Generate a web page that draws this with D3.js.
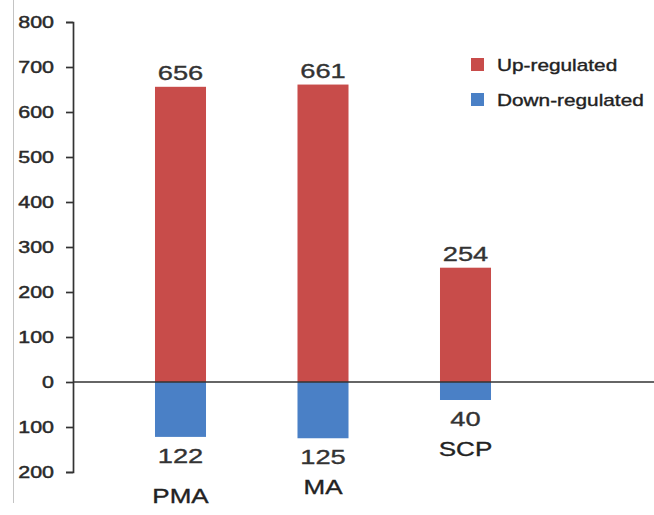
<!DOCTYPE html>
<html>
<head>
<meta charset="utf-8">
<script src="https://cdn.jsdelivr.net/npm/d3@7"></script>
<style>
  html, body { margin: 0; padding: 0; background: #fff; }
  svg { display: block; }
  text { font-family: "Liberation Sans", Arial, sans-serif; }
</style>
</head>
<body>
<svg id="chart" width="654" height="515"></svg>
<script>
// Differentially expressed genes per comparison
const categories = ["PMA", "MA", "SCP"];
const upRegulated = [656, 661, 254];
const downRegulated = [122, 125, 40];
const yTicks = [-200, -100, 0, 100, 200, 300, 400, 500, 600, 700, 800];
const seriesNames = ["Up-regulated", "Down-regulated"];
const seriesColors = ["#c84c4a", "#4a80c6"];

const W = 654, H = 515;
const svg = d3.select("#chart");
const stretch = 1.3;   // wide lettering

const y = d3.scaleLinear().domain([-200, 800]).range([472, 22]);
const x = d3.scaleBand().domain(categories)
  .range([109.25, 536.75]).paddingInner(0.642).paddingOuter(0.321);
const axisX = 73;

// stretched text helper
function label(g, x0, y0, txt, size, anchor, fill) {
  return g.append("text")
    .attr("transform", `translate(${x0},${y0}) scale(${stretch},1)`)
    .attr("text-anchor", anchor)
    .attr("font-size", size)
    .attr("fill", fill || "#2a2a2a")
    .attr("stroke", fill || "#2a2a2a")
    .attr("stroke-width", 0.35)
    .text(txt);
}

// thin frame edge on the left
svg.append("line")
  .attr("x1", 13.5).attr("x2", 13.5).attr("y1", 0).attr("y2", 503)
  .attr("stroke", "#c4c4c4").attr("stroke-width", 1);

// bars
const bars = svg.append("g");
bars.selectAll("rect.up").data(upRegulated).join("rect")
  .attr("class", "up")
  .attr("x", (d, i) => x(categories[i]))
  .attr("width", x.bandwidth())
  .attr("y", d => y(d))
  .attr("height", d => y(0) - y(d))
  .attr("fill", seriesColors[0]);
bars.selectAll("rect.down").data(downRegulated).join("rect")
  .attr("class", "down")
  .attr("x", (d, i) => x(categories[i]))
  .attr("width", x.bandwidth())
  .attr("y", y(0))
  .attr("height", d => y(-d) - y(0))
  .attr("fill", seriesColors[1]);

// y axis
const yAxis = d3.axisLeft(y).tickValues(yTicks)
  .tickFormat(d => Math.abs(d)).tickSize(7).tickSizeOuter(7);
const ag = svg.append("g").attr("transform", `translate(${axisX},0)`).call(yAxis);
ag.select(".domain").attr("stroke", "#333").attr("stroke-width", 1.7);
ag.selectAll(".tick line").attr("stroke", "#333").attr("stroke-width", 1.7);
ag.selectAll(".tick text")
  .attr("x", -19 / stretch)
  .attr("transform", `scale(${stretch},1)`)
  .attr("font-size", 16.5)
  .attr("font-family", "Liberation Sans, Arial, sans-serif")
  .attr("fill", "#2a2a2a")
  .attr("stroke", "#2a2a2a")
  .attr("stroke-width", 0.45);

// zero baseline
svg.append("line")
  .attr("x1", axisX).attr("x2", W).attr("y1", y(0)).attr("y2", y(0))
  .attr("stroke", "#333").attr("stroke-width", 1.7);

// value and category labels
const lab = svg.append("g");
const catGap = [40, 30, 30];
categories.forEach((c, i) => {
  const cx = x(c) + x.bandwidth() / 2;
  label(lab, cx, y(upRegulated[i]) - 7, upRegulated[i], 21, "middle", "#333");
  const downBase = y(-downRegulated[i]) + 26;
  label(lab, cx, downBase, downRegulated[i], 21, "middle", "#333");
  label(lab, cx, downBase + catGap[i], c, 20, "middle", "#222");
});

// legend
const lg = svg.append("g");
seriesNames.forEach((n, i) => {
  const ly = 65 + i * 35;
  lg.append("rect").attr("x", 471).attr("y", ly - 7).attr("width", 13).attr("height", 13)
    .attr("fill", seriesColors[i]);
  label(lg, 497, ly + 6, n, 16, "start", "#222");
});
</script>
</body>
</html>
